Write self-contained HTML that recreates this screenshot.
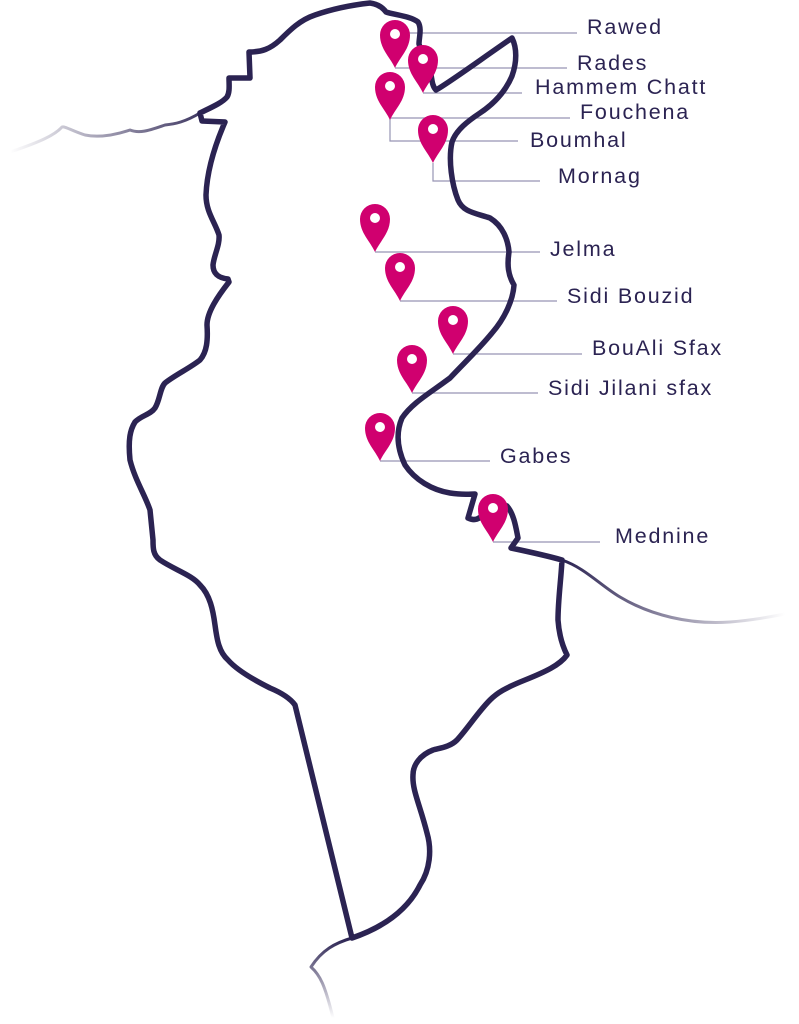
<!DOCTYPE html>
<html><head><meta charset="utf-8"><style>
html,body{margin:0;padding:0;background:#fff;}
svg{display:block;}
text{font-family:"Liberation Sans",sans-serif;font-size:21.5px;letter-spacing:1.8px;fill:#2b2352;}
</style></head><body>
<svg width="799" height="1024" viewBox="0 0 799 1024" xmlns="http://www.w3.org/2000/svg">
<defs>
<linearGradient id="gl" x1="0" y1="0" x2="1" y2="0"><stop offset="0" stop-color="#2b2352" stop-opacity="0"/><stop offset="1" stop-color="#2b2352" stop-opacity="0.9"/></linearGradient>
<linearGradient id="gr" x1="0" y1="0" x2="1" y2="0"><stop offset="0" stop-color="#2b2352"/><stop offset="1" stop-color="#2b2352" stop-opacity="0"/></linearGradient>
<linearGradient id="gb" x1="0" y1="0" x2="0" y2="1"><stop offset="0" stop-color="#2b2352"/><stop offset="1" stop-color="#2b2352" stop-opacity="0"/></linearGradient>
<g id="pin"><path d="M0,33 C-5,22 -15,14 -15,0 A15,15 0 1 1 15,0 C15,14 5,22 0,33Z" fill="#d0006f"/><circle cx="0" cy="-1" r="5" fill="#fff"/></g>
</defs>
<g fill="none" stroke-linecap="round" stroke-linejoin="round">
<path d="M200,113 C185,122 175,124 165,125 C150,130 140,134 130,130 C115,135 100,138 85,135 C72,131 65,126 62,127 C55,135 40,142 10,152" stroke="url(#gl)" stroke-width="3"/>
<path d="M562,560 C585,568 600,585 620,597 C650,615 690,625 730,622 C755,620 775,616 785,614" stroke="url(#gr)" stroke-width="3"/>
<path d="M352,938 C335,943 322,950 311,967 C320,975 325,985 333,1018" stroke="url(#gb)" stroke-width="3"/>
</g>
<g stroke="#9795b3" stroke-width="1.2" fill="none">
<path d="M405,33H577"/>
<path d="M395,68H567"/>
<path d="M423,93H522"/>
<path d="M390,118H570M390,118V141H518"/>
<path d="M433,163V181H540"/>
<path d="M375,252H540"/>
<path d="M400,301H557"/>
<path d="M453,354H582"/>
<path d="M412,393H538"/>
<path d="M380,461H490"/>
<path d="M493,542H600"/>
</g>
<path fill="none" stroke="#2b2352" stroke-width="5.5" stroke-linejoin="round" stroke-linecap="round" d="
M370,3 C378,4 383,8 386,12 C395,15 410,16 418,22 C422,28 419,38 419,44 C421,52 428,58 430,68 C432,80 432,86 436,90 C450,82 480,60 512,38 C517,48 517,62 512,76 C506,90 495,103 480,113 C468,121 456,130 452,142 C448,160 452,185 458,200 C463,212 475,213 490,218 C503,226 508,240 509,252 C507,265 508,275 514,285 C513,300 505,318 492,333 C478,350 465,362 450,378 C430,393 412,403 402,418 C396,432 397,448 405,465 C415,480 432,490 450,493 C462,495 470,494 475,494 L468,518 C474,521 480,520 485,512 C490,504 500,502 507,506 C514,514 516,528 518,538 L511,548 C530,552 548,556 562,560 C561,580 558,600 558,620 C559,635 562,645 567,655 C560,665 545,672 525,680 C505,688 497,693 490,700 C478,712 468,728 457,740 C450,747 440,748 433,750 C420,755 413,765 413,775 C412,790 420,805 427,833 C432,850 430,870 420,885 C410,905 390,925 352,938
L295,705 C290,698 282,693 270,688 C250,678 235,668 228,660 C219,652 217,640 215,625 C213,610 210,595 200,585 C192,575 175,570 160,560 C153,555 153,548 153,540 L150,510 C145,495 135,480 130,460 C128,440 130,430 135,422 C142,415 150,415 155,408 C160,400 160,388 165,383 C175,375 190,368 200,360 C207,352 208,340 207,325 C207,312 218,296 229,282 L228,279 C220,278 213,275 213,265 C214,255 220,245 219,235 C215,222 206,212 206,195 C207,170 215,145 225,122 L202,121 L200,113 C210,108 222,103 227,97 C230,92 229,85 229,78 L250,78 L249,52 C262,52 270,49 280,40 C290,30 300,20 315,15 C335,8 352,5 370,3 Z"/>
<use href="#pin" x="395" y="35"/>
<use href="#pin" x="423" y="60"/>
<use href="#pin" x="390" y="87"/>
<use href="#pin" x="433" y="130"/>
<use href="#pin" x="375" y="219"/>
<use href="#pin" x="400" y="268"/>
<use href="#pin" x="453" y="321"/>
<use href="#pin" x="412" y="360"/>
<use href="#pin" x="380" y="428"/>
<use href="#pin" x="493" y="509"/>
<text x="587" y="34">Rawed</text>
<text x="577" y="70">Rades</text>
<text x="535" y="94">Hammem Chatt</text>
<text x="580" y="119">Fouchena</text>
<text x="530" y="147">Boumhal</text>
<text x="558" y="183">Mornag</text>
<text x="550" y="256">Jelma</text>
<text x="567" y="303">Sidi Bouzid</text>
<text x="592" y="355">BouAli Sfax</text>
<text x="548" y="395">Sidi Jilani sfax</text>
<text x="500" y="463">Gabes</text>
<text x="615" y="543">Mednine</text>
</svg>
</body></html>
